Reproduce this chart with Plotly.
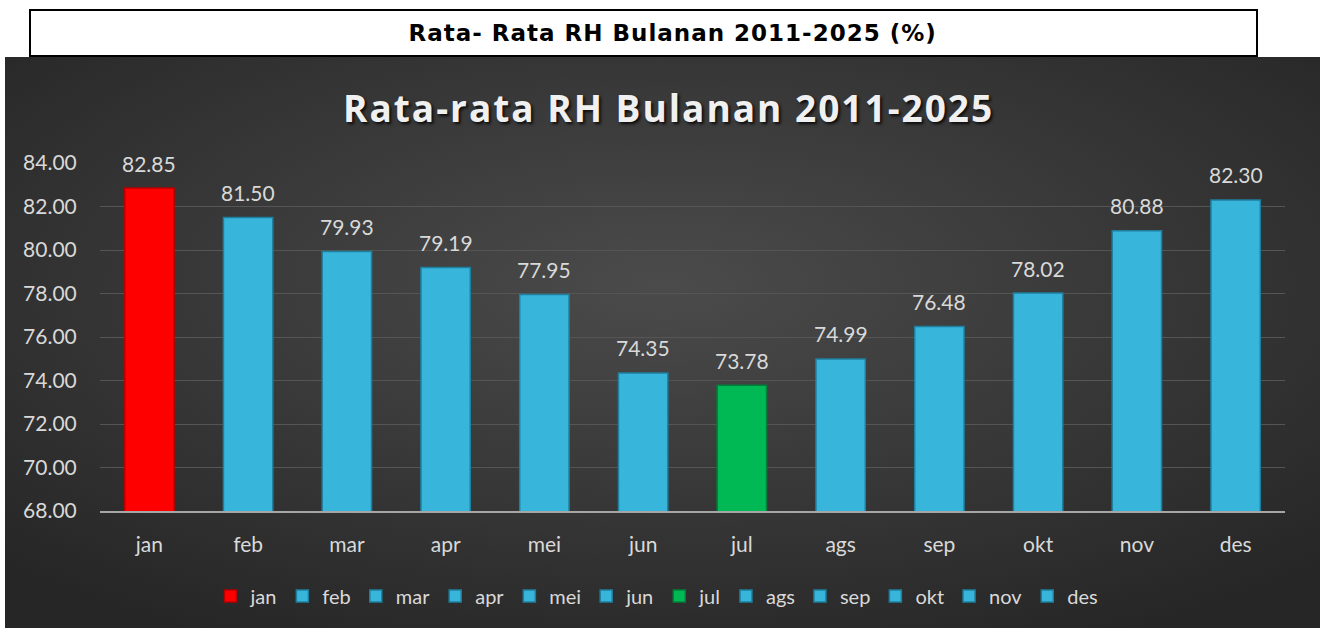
import plotly.graph_objects as go
import base64

months = ["jan", "feb", "mar", "apr", "mei", "jun", "jul", "ags", "sep", "okt", "nov", "des"]
rh = [82.85, 81.50, 79.93, 79.19, 77.95, 74.35, 73.78, 74.99, 76.48, 78.02, 80.88, 82.30]
colors = ["#ff0000", "#37b5db", "#37b5db", "#37b5db", "#37b5db", "#37b5db",
          "#00b955", "#37b5db", "#37b5db", "#37b5db", "#37b5db", "#37b5db"]
edges = ["#b80000", "#1f7f9e", "#1f7f9e", "#1f7f9e", "#1f7f9e", "#1f7f9e",
         "#00803a", "#1f7f9e", "#1f7f9e", "#1f7f9e", "#1f7f9e", "#1f7f9e"]
y_ticks = [68, 70, 72, 74, 76, 78, 80, 82, 84]

W, H = 1320, 628
L, R, T, B = 100, 35, 163, 117
pw, ph = W - L - R, H - T - B

def px(x):
    return (x - L) / pw

def py(y):
    return (H - B - y) / ph

fig = go.Figure()
for m, v, c, e in zip(months, rh, colors, edges):
    fig.add_trace(go.Bar(
        x=[m], y=[v], name=m,
        marker=dict(color=c, line=dict(color=e, width=1.5)),
        cliponaxis=False,
    ))

label_annotations = [
    dict(x=m, y=v, xref="x", yref="y", text=f"{v:.2f}", showarrow=False,
         yanchor="middle", yshift=25,
         font=dict(family="Lato", size=21, color="#d9d9d9"))
    for m, v in zip(months, rh)
]

svg = ('<svg xmlns="http://www.w3.org/2000/svg" width="1315" height="571">'
       '<defs><radialGradient id="g" cx="50%" cy="40%" r="70%">'
       '<stop offset="0%" stop-color="#4b4b4b"/><stop offset="100%" stop-color="#262626"/>'
       '</radialGradient></defs><rect width="1315" height="571" fill="url(#g)"/></svg>')
img = "data:image/svg+xml;base64," + base64.b64encode(svg.encode()).decode()

fig.update_layout(
    width=W, height=H,
    margin=dict(l=L, r=R, t=T, b=B),
    paper_bgcolor="white", plot_bgcolor="rgba(0,0,0,0)",
    barmode="relative", bargap=0.5,
    showlegend=True,
    legend=dict(orientation="h", x=0.470, xanchor="center", y=py(596), yanchor="middle",
                font=dict(family="Lato", size=20, color="#d9d9d9"),
                itemwidth=30, bgcolor="rgba(0,0,0,0)", tracegroupgap=0),
    images=[dict(source=img, xref="paper", yref="paper", x=px(5), y=py(57),
                 sizex=px(1320) - px(5), sizey=py(57) - py(628),
                 sizing="stretch", layer="below", xanchor="left", yanchor="top")],
    shapes=[dict(type="rect", xref="paper", yref="paper",
                 x0=px(30), x1=px(1257), y0=py(56), y1=py(10),
                 line=dict(color="black", width=2), fillcolor="white", layer="above")],
    annotations=[
        dict(text="<b>Rata- Rata RH Bulanan 2011-2025 (%)</b>", xref="paper", yref="paper",
             x=px(672), y=py(33), showarrow=False, xanchor="center", yanchor="middle",
             font=dict(family="DejaVu Sans", size=23, color="black")),
        dict(text="<b>Rata-rata RH Bulanan 2011-2025</b>", xref="paper", yref="paper",
             x=px(668), y=py(107), showarrow=False, xanchor="center", yanchor="middle",
             font=dict(family="Open Sans", size=37, color="#f0f0f0",
                       shadow="2px 2px 3px rgba(0,0,0,0.8)")),
    ] + label_annotations,
    xaxis=dict(showgrid=False, showline=True, linecolor="#a6a6a6", linewidth=2,
               ticks="outside", ticklen=14, tickcolor="rgba(0,0,0,0)",
               tickfont=dict(family="Lato", size=21, color="#d9d9d9")),
    yaxis=dict(range=[68, 84], tickvals=y_ticks, ticktext=[f"{t:.2f}" for t in y_ticks],
               showgrid=True, gridcolor="#555555", gridwidth=1, zeroline=False,
               ticks="outside", ticklen=18, tickcolor="rgba(0,0,0,0)",
               tickfont=dict(family="Lato", size=21, color="#d9d9d9")),
)

post = """
document.body.style.margin='0px';
var gd = document.getElementById('{plot_id}');
gd.querySelectorAll('.annotation-text').forEach(function(t){
  var s = t.textContent;
  if (s.indexOf('Rata-rata') === 0) { t.style.letterSpacing = '2px'; }
  else if (s.indexOf('Rata- Rata') === 0) { t.style.letterSpacing = '1px'; }
});
"""

fig.write_html("out.html", config={"displayModeBar": False}, post_script=post)
